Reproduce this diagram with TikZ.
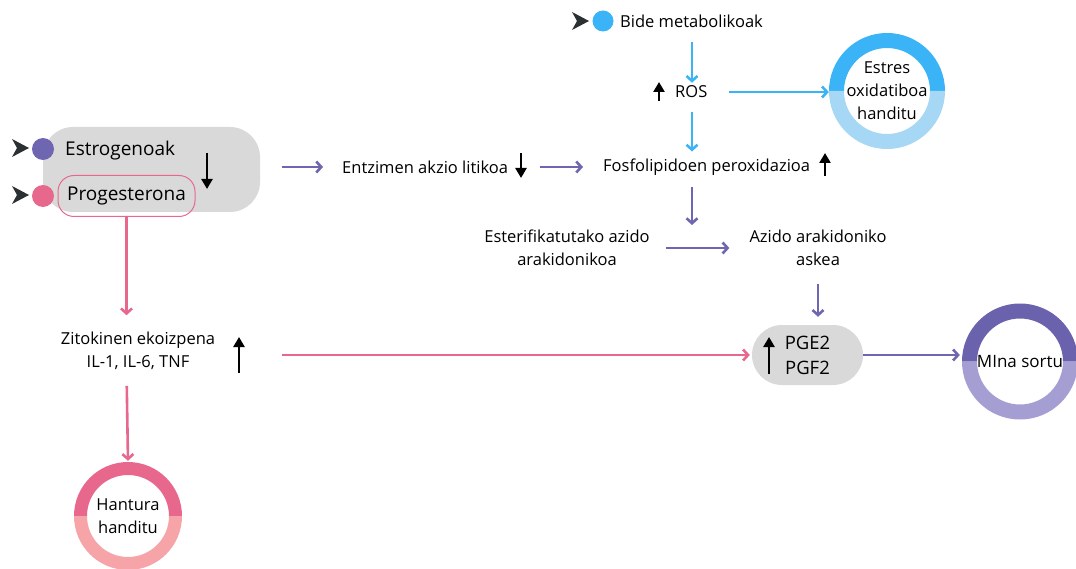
\documentclass[tikz,border=0pt]{standalone}
\usepackage{fontspec}
\setmainfont{Open Sans}
\usetikzlibrary{arrows.meta,calc}
\definecolor{cpurple}{HTML}{6E66B0}
\definecolor{cpurpleL}{HTML}{A59ED3}
\definecolor{cpurpleD}{HTML}{6A62AC}
\definecolor{cpink}{HTML}{E8688D}
\definecolor{cpinkL}{HTML}{F6A4A8}
\definecolor{cblue}{HTML}{3BB3F7}
\definecolor{cblueL}{HTML}{A6D8F6}
\definecolor{cgray}{HTML}{D9D9D9}
\definecolor{cdark}{HTML}{2B3033}
\newcommand{\ringhalf}[6]{%
  \fill[#6] ($(#1,#2)+(#5:#3)$) arc[start angle=#5, delta angle=180, radius=#3]
    -- ($(#1,#2)+(#5+180:#3-#4)$) arc[start angle=#5+180, delta angle=-180, radius=#3-#4] -- cycle;}
\begin{document}
\begin{tikzpicture}[x=1pt,y=-1pt,
  txt/.style={inner sep=0pt, align=center, font=\fontsize{16.5}{22.5}\selectfont},
  bigtxt/.style={inner sep=0pt, align=center, font=\fontsize{19}{25}\selectfont},
  ringnode/.style={circle, inner sep=0pt, minimum size=#1, align=center, font=\fontsize{16.5}{23}\selectfont},
  conn/.style={line width=2.6pt, -{Straight Barb[length=5pt,width=11pt]}},
  parr/.style={conn, cpurple},
  pkarr/.style={conn, cpink},
  blarr/.style={conn, cblue},
  barr/.style={line width=2.8pt, black, -{Triangle[length=10pt,width=11pt]}},
  marker/.style={fill=cdark}
]
\useasboundingbox (0,0) rectangle (1076,569);

% ---- left block
\node[fill=cgray, rounded corners=30pt, minimum width=217, minimum height=85, inner sep=0] (hbox) at (151.5,169.5) {};
\node[bigtxt, anchor=west] (estro) at (65,151) {Estrogenoak};
\node[draw=cpink, line width=1pt, rounded corners=16pt, minimum width=137, minimum height=41, inner sep=0, font=\fontsize{19}{25}\selectfont] (proge) at (126.5,196) {Progesterona};
\fill[marker] (12,139) -- (29,148) -- (12,157) -- (17,148) -- cycle;
\fill[marker] (12,186) -- (29,195) -- (12,204) -- (17,195) -- cycle;
\fill[cpurple] (43,149) circle[radius=11];
\fill[cpink] (43,196) circle[radius=11];
\draw[barr] (207,153) -- (207,189);

% ---- cytokines
\node[txt] (zito) at (138,351) {Zitokinen ekoizpena\\IL-1, IL-6, TNF};
\draw[barr] (239,373) -- (239,337);

% ---- Hantura ring
\ringhalf{128}{516}{54}{13}{180}{cpink}
\ringhalf{128}{516}{54}{13}{0}{cpinkL}
\node[ringnode=108] (hantura) at (128,516) {Hantura\\handitu};

% ---- middle row
\node[txt, anchor=west] (entz) at (342,167) {Entzimen akzio litikoa};
\draw[barr] (521,153) -- (521,178);
\node[txt, anchor=west] (fosfo) at (603,167) {Fosfolipidoen peroxidazioa};
\draw[barr] (825,176) -- (825,153);

% ---- top blue
\fill[marker] (572,12) -- (589,21) -- (572,30) -- (577,21) -- cycle;
\fill[cblue] (603,21) circle[radius=10.5];
\node[txt, anchor=west] (bide) at (620,21) {Bide metabolikoak};
\coordinate (vcol) at (692,0);
\node[txt, anchor=west] (ros) at (675,92) {ROS};
\draw[barr] (659,101) -- (659,82);

% ---- Estres ring
\ringhalf{887}{91}{58}{15}{180}{cblue}
\ringhalf{887}{91}{58}{15}{0}{cblueL}
\node[ringnode=116] (estres) at (887,91) {Estres\\oxidatiboa\\handitu};

% ---- arachidonic
\node[txt] (ester) at (567,248) {Esterifikatutako azido\\arakidonikoa};
\node[txt] (azido) at (818,248) {Azido arakidoniko\\askea};
\coordinate (join) at (692,225);

% ---- PGE box
\node[fill=cgray, rounded corners=30pt, minimum width=111, minimum height=60, inner sep=0, align=center, font=\fontsize{18.5}{25}\selectfont] (pge) at (807.5,355) {PGE2\\PGF2};
\draw[barr] (769,374) -- (769,337);

% ---- MIna ring
\ringhalf{1020}{361.5}{58}{15}{180}{cpurpleD}
\ringhalf{1020}{361.5}{58}{15}{0}{cpurpleL}
\node[ringnode=116, font=\fontsize{17}{23}\selectfont] (mina) at (1020,361.5) {MIna sortu};

% ---- connectors
\draw[parr, shorten <=22pt, shorten >=19pt] (entz.west -| hbox.east) -- (entz.west);
\draw[parr, shorten <=32pt, shorten >=20pt] (entz.east) -- (fosfo.west);
\draw[blarr, shorten <=14pt, shorten >=3pt] (bide.south -| vcol) -- (ros.north -| vcol);
\draw[blarr, shorten <=14pt, shorten >=7pt] (ros.south -| vcol) -- (fosfo.north -| vcol);
\draw[blarr, shorten <=21pt, shorten >=0pt] (ros.east) -- (ros.east -| estres.west);
\draw[parr, shorten <=12pt] (fosfo.south -| vcol) -- (join);
\draw[parr, shorten <=16pt, shorten >=20pt] (ester.east) -- (azido.west);
\draw[parr, shorten <=18pt, shorten >=8pt] (azido.south) -- (azido.south |- pge.north);
\draw[pkarr, shorten >=17pt] (proge.south) -- (proge.south |- zito.north);
\draw[pkarr, shorten <=16pt, shorten >=1pt] (proge.south |- zito.south) -- (hantura.north);
\draw[pkarr, shorten <=67pt, shorten >=2pt] (pge.west -| zito.east) -- (pge.west);
\draw[parr, shorten >=2pt] (pge.east) -- (pge.east -| mina.west);
\end{tikzpicture}
\end{document}
